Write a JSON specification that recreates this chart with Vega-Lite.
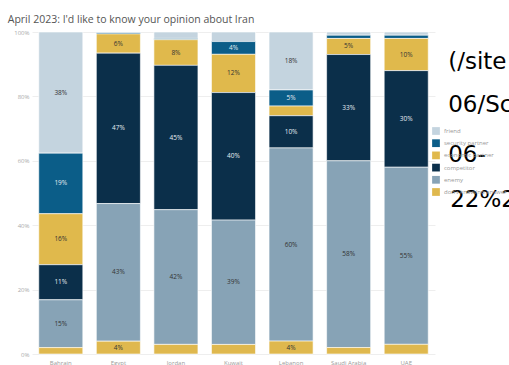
{
  "$schema": "https://vega.github.io/schema/vega-lite/v6.json",
  "width": 403,
  "height": 322,
  "autosize": {"type": "none"},
  "padding": {"left": 32, "top": 32, "right": 74, "bottom": 11},
  "background": "white",
  "config": {
    "view": {"stroke": null},
    "font": "Open Sans",
    "axis": {"labelOverlap": false, "labelBound": false, "labelSeparation": 0},
    "axisY": {"labelOverlap": false, "labelFlush": false, "labelFontSize": 6, "labelColor": "#aaaaaa", "domain": false, "ticks": false, "gridColor": "#eeeeee", "labelPadding": 3, "title": null},
    "axisX": {"labelAngle": 0, "labelFontSize": 6, "labelColor": "#9a9a9a", "domain": false, "ticks": false, "labelPadding": 5, "title": null}
  },
  "title": {
    "text": "April 2023: I'd like to know your opinion about Iran",
    "anchor": "start",
    "dx": -6,
    "offset": 4,
    "fontSize": 10.5,
    "fontWeight": "normal",
    "color": "#555555",
    "font": "Open Sans"
  },
  "data": {
    "values": [
      {"country": "Bahrain", "answer": "friend", "value": 38},
      {"country": "Bahrain", "answer": "security partner", "value": 19},
      {"country": "Bahrain", "answer": "economic partner", "value": 16},
      {"country": "Bahrain", "answer": "competitor", "value": 11},
      {"country": "Bahrain", "answer": "enemy", "value": 15},
      {"country": "Bahrain", "answer": "don't know/no answer", "value": 2},
      {"country": "Egypt", "answer": "friend", "value": 0.2},
      {"country": "Egypt", "answer": "security partner", "value": 0.4},
      {"country": "Egypt", "answer": "economic partner", "value": 6},
      {"country": "Egypt", "answer": "competitor", "value": 47},
      {"country": "Egypt", "answer": "enemy", "value": 43},
      {"country": "Egypt", "answer": "don't know/no answer", "value": 4},
      {"country": "Jordan", "answer": "friend", "value": 2},
      {"country": "Jordan", "answer": "security partner", "value": 0.4},
      {"country": "Jordan", "answer": "economic partner", "value": 8},
      {"country": "Jordan", "answer": "competitor", "value": 45},
      {"country": "Jordan", "answer": "enemy", "value": 42},
      {"country": "Jordan", "answer": "don't know/no answer", "value": 3},
      {"country": "Kuwait", "answer": "friend", "value": 3},
      {"country": "Kuwait", "answer": "security partner", "value": 4},
      {"country": "Kuwait", "answer": "economic partner", "value": 12},
      {"country": "Kuwait", "answer": "competitor", "value": 40},
      {"country": "Kuwait", "answer": "enemy", "value": 39},
      {"country": "Kuwait", "answer": "don't know/no answer", "value": 3},
      {"country": "Lebanon", "answer": "friend", "value": 18},
      {"country": "Lebanon", "answer": "security partner", "value": 5},
      {"country": "Lebanon", "answer": "economic partner", "value": 3},
      {"country": "Lebanon", "answer": "competitor", "value": 10},
      {"country": "Lebanon", "answer": "enemy", "value": 60},
      {"country": "Lebanon", "answer": "don't know/no answer", "value": 4},
      {"country": "Saudi Arabia", "answer": "friend", "value": 1},
      {"country": "Saudi Arabia", "answer": "security partner", "value": 1},
      {"country": "Saudi Arabia", "answer": "economic partner", "value": 5},
      {"country": "Saudi Arabia", "answer": "competitor", "value": 33},
      {"country": "Saudi Arabia", "answer": "enemy", "value": 58},
      {"country": "Saudi Arabia", "answer": "don't know/no answer", "value": 2},
      {"country": "UAE", "answer": "friend", "value": 1},
      {"country": "UAE", "answer": "security partner", "value": 1},
      {"country": "UAE", "answer": "economic partner", "value": 10},
      {"country": "UAE", "answer": "competitor", "value": 30},
      {"country": "UAE", "answer": "enemy", "value": 55},
      {"country": "UAE", "answer": "don't know/no answer", "value": 3}
    ]
  },
  "transform": [
    {"calculate": "indexof([\"don't know/no answer\", \"enemy\", \"competitor\", \"economic partner\", \"security partner\", \"friend\"], datum.answer)", "as": "rank"},
    {"stack": "value", "groupby": ["country"], "sort": [{"field": "rank", "order": "ascending"}], "as": ["v0", "v1"], "offset": "normalize"},
    {"calculate": "(datum.v0 + datum.v1) / 2", "as": "mid"},
    {"calculate": "format(datum.value, 'd') + '%'", "as": "label"}
  ],
  "layer": [
    {
      "mark": {"type": "bar", "stroke": "white", "strokeWidth": 0.6},
      "encoding": {
        "x": {
          "field": "country", "type": "nominal", "sort": null,
          "scale": {"paddingInner": 0.235, "paddingOuter": 0.1175}
        },
        "y": {
          "field": "v0", "type": "quantitative",
          "scale": {"domain": [0, 1], "nice": false},
          "axis": {"format": ".0%", "values": [0, 0.1, 0.2, 0.3, 0.4, 0.5, 0.6, 0.7, 0.8, 0.9, 1], "labelOverlap": false}
        },
        "y2": {"field": "v1"},
        "color": {
          "field": "answer", "type": "nominal",
          "scale": {
            "domain": ["friend", "security partner", "economic partner", "competitor", "enemy", "don't know/no answer"],
            "range": ["#c4d4df", "#0b5d88", "#e0b94c", "#0b2f4a", "#87a3b6", "#dfb84e"]
          },
          "legend": {
            "title": null, "orient": "none", "legendX": 400, "legendY": 95,
            "symbolType": "square", "symbolSize": 60, "symbolStrokeWidth": 0,
            "labelFontSize": 6, "labelColor": "#999999", "rowPadding": 4.2, "labelOffset": 4
          }
        }
      }
    },
    {
      "transform": [{"filter": "datum.value >= 4"}],
      "mark": {"type": "text", "fontSize": 6.5},
      "encoding": {
        "x": {"field": "country", "type": "nominal", "sort": null},
        "y": {"field": "mid", "type": "quantitative"},
        "text": {"field": "label"},
        "color": {
          "condition": {"test": "datum.answer === 'competitor' || datum.answer === 'security partner'", "value": "#e6edf2"},
          "value": "#333333"
        }
      }
    },
    {
      "data": {"values": [{"t": "(/site"}]},
      "mark": {"type": "text", "align": "left", "baseline": "alphabetic", "fontSize": 23, "font": "DejaVu Sans", "color": "black", "dx": 42, "clip": false},
      "encoding": {"x": {"datum": "UAE"}, "y": {"datum": 0.885, "type": "quantitative"}, "text": {"field": "t"}}
    },
    {
      "data": {"values": [{"t": "06/Sc"}]},
      "mark": {"type": "text", "align": "left", "baseline": "alphabetic", "fontSize": 23, "font": "DejaVu Sans", "color": "black", "dx": 42, "clip": false},
      "encoding": {"x": {"datum": "UAE"}, "y": {"datum": 0.752, "type": "quantitative"}, "text": {"field": "t"}}
    },
    {
      "data": {"values": [{"t": "06-"}]},
      "mark": {"type": "text", "align": "left", "baseline": "alphabetic", "fontSize": 23, "font": "DejaVu Sans", "color": "black", "dx": 42, "clip": false},
      "encoding": {"x": {"datum": "UAE"}, "y": {"datum": 0.596, "type": "quantitative"}, "text": {"field": "t"}}
    },
    {
      "data": {"values": [{"t": "22%2"}]},
      "mark": {"type": "text", "align": "left", "baseline": "alphabetic", "fontSize": 23, "font": "DejaVu Sans", "color": "black", "dx": 44, "clip": false},
      "encoding": {"x": {"datum": "UAE"}, "y": {"datum": 0.455, "type": "quantitative"}, "text": {"field": "t"}}
    }
  ]
}
